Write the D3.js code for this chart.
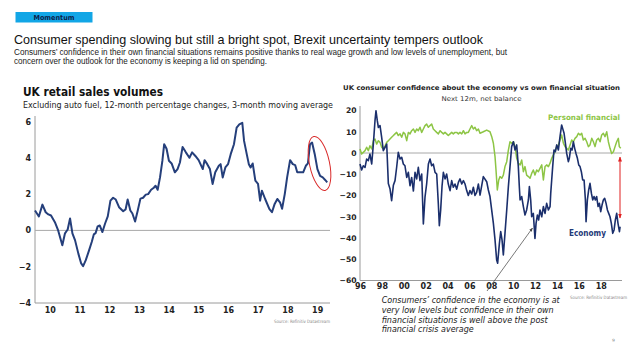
<!DOCTYPE html>
<html><head><meta charset="utf-8">
<script src="https://cdn.jsdelivr.net/npm/d3@7"></script>
<style>html,body{margin:0;padding:0;background:#fff;} svg{display:block;}</style>
</head><body>
<svg id="c" width="638" height="359"></svg>
<script>
// ---------- DATA ----------
const retailYears = [2010.00,2010.13,2010.25,2010.36,2010.45,2010.54,2010.67,2010.78,2010.92,2011.01,2011.10,2011.18,2011.26,2011.35,2011.46,2011.55,2011.62,2011.71,2011.82,2011.91,2011.98,2012.04,2012.11,2012.18,2012.27,2012.36,2012.45,2012.54,2012.63,2012.72,2012.83,2012.97,2013.05,2013.12,2013.21,2013.28,2013.37,2013.46,2013.55,2013.64,2013.73,2013.81,2013.91,2014.00,2014.06,2014.13,2014.21,2014.29,2014.35,2014.43,2014.51,2014.60,2014.71,2014.80,2014.88,2014.97,2015.08,2015.20,2015.29,2015.40,2015.51,2015.65,2015.71,2015.80,2015.89,2015.98,2016.07,2016.19,2016.25,2016.32,2016.41,2016.50,2016.59,2016.70,2016.79,2016.88,2016.98,2017.04,2017.13,2017.20,2017.26,2017.33,2017.42,2017.51,2017.58,2017.64,2017.75,2017.89,2017.98,2018.07,2018.16,2018.25,2018.32,2018.41,2018.49,2018.59,2018.68,2018.76,2018.83,2018.95,2019.03,2019.12,2019.19,2019.26,2019.33,2019.42,2019.51,2019.60,2019.69,2019.77,2019.84];
const retailValues = [1.1,0.77,1.42,1.0,0.88,0.82,0.45,0.0,-0.82,-0.16,0.05,0.66,-0.16,-0.55,-1.28,-1.8,-1.97,-1.64,-1.1,-0.64,-0.22,-0.15,0.22,0.27,-0.09,0.38,0.77,1.64,1.8,1.7,1.28,1.06,1.15,1.7,1.1,0.93,0.49,1.1,1.75,1.8,1.97,2.0,2.24,2.35,2.46,2.24,2.92,3.84,4.75,4.5,3.84,3.69,3.2,3.38,3.74,4.6,4.3,4.0,4.3,4.1,3.87,3.38,3.87,3.65,3.38,2.56,3.2,3.56,3.65,2.92,3.47,3.65,4.2,4.75,5.66,5.84,5.93,4.93,4.2,3.65,3.47,3.69,2.74,2.56,1.64,2.19,1.73,1.19,1.0,1.46,1.73,1.55,1.19,2.0,2.92,3.87,3.65,3.6,3.2,3.2,3.2,3.56,3.69,4.75,4.84,4.2,3.38,3.0,2.92,2.78,2.65];
const retailTicks = [-4,-2,0,2,4,6];
const retailYearTicks = [2010,2011,2012,2013,2014,2015,2016,2017,2018,2019];
const retailYearLabels = ["10","11","12","13","14","15","16","17","18","19"];

const econYears = [1996.00,1996.15,1996.30,1996.46,1996.61,1996.76,1996.91,1997.07,1997.22,1997.37,1997.46,1997.58,1997.68,1997.83,1997.98,1998.13,1998.29,1998.44,1998.59,1998.74,1998.89,1999.05,1999.20,1999.35,1999.50,1999.66,1999.81,1999.96,2000.11,2000.27,2000.42,2000.57,2000.72,2000.88,2001.03,2001.18,2001.33,2001.48,2001.64,2001.79,2001.94,2002.09,2002.25,2002.40,2002.55,2002.70,2002.86,2003.01,2003.16,2003.25,2003.37,2003.50,2003.62,2003.77,2003.92,2004.07,2004.23,2004.38,2004.53,2004.68,2004.84,2004.99,2005.14,2005.30,2005.45,2005.60,2005.75,2005.90,2006.05,2006.21,2006.36,2006.51,2006.66,2006.82,2006.97,2007.27,2007.58,2007.73,2007.88,2008.19,2008.34,2008.49,2008.58,2008.74,2008.86,2008.98,2009.10,2009.25,2009.41,2009.56,2009.71,2009.86,2010.02,2010.17,2010.32,2010.47,2010.56,2010.63,2010.78,2010.93,2011.08,2011.23,2011.39,2011.48,2011.60,2011.69,2011.84,2011.94,2011.99,2012.09,2012.21,2012.33,2012.45,2012.61,2012.76,2012.91,2013.06,2013.22,2013.37,2013.43,2013.52,2013.61,2013.73,2013.85,2013.98,2014.13,2014.28,2014.43,2014.52,2014.65,2014.77,2014.89,2015.04,2015.13,2015.26,2015.38,2015.50,2015.62,2015.74,2015.87,2015.99,2016.11,2016.23,2016.35,2016.48,2016.60,2016.66,2016.78,2016.90,2017.02,2017.15,2017.27,2017.39,2017.51,2017.63,2017.76,2017.88,2018.00,2018.12,2018.24,2018.36,2018.49,2018.61,2018.73,2018.85,2018.97,2019.10,2019.22,2019.34,2019.46,2019.58,2019.71,2019.77];
const econValues = [-5.2,-8,-6,-6.8,-2.8,-3.6,-0.5,-5.2,4.2,15.2,19.9,15.2,12,12.9,7.4,1.1,2.7,4.2,-14.4,-16.8,-22.4,-15.2,-13,-6.7,0.3,-2.8,-2,-5.2,-6,-11.5,-9.1,-15.4,-11.5,-17.9,-9.1,-12.2,-6.7,-13,-9.9,-33.4,-20.8,-14.6,-5.2,-2.8,-6,-5.2,-9.1,-9.9,-24,-34.2,-27,-15.4,-9.1,-12.2,-9.9,-14.6,-17.7,-13,-16.1,-14.6,-17,-13.8,-12.2,-14.6,-13,-14.6,-17.7,-20,-17.7,-19.3,-16.1,-20,-18.5,-14.6,-19.8,-11.1,-13.5,-17.4,-20.5,-33.1,-40.9,-50.4,-51.9,-42.5,-37,-40.9,-48,-37.8,-26.8,-15.8,-6.4,3,5.3,1.4,3.8,-6.4,-15.8,-22.1,-20.5,-25.2,-29.2,-26.8,-22.1,-15.8,-22.1,-30,-28.4,-36.2,-40.2,-33.1,-29.2,-31.5,-26.8,-30,-25.2,-28.4,-23.7,-26.8,-25.2,-19,-12.7,-6.4,1.4,0.6,3.8,1.4,7.7,13.2,11.6,9.3,4.6,-0.2,-4.1,-2.5,2.2,1.4,5.3,2.2,-0.2,-2.5,-5.6,-6.4,-8.8,-12.7,-12.7,-22.1,-32.3,-22.1,-17.4,-14.3,-19,-22.1,-20.5,-22.1,-20.5,-25.2,-23.7,-27.6,-24.5,-22.1,-21.3,-23.7,-26.8,-28.4,-30,-33.1,-37.8,-36.2,-31.5,-28.4,-33.1,-37,-34.7];

const persYears = [1996.00,1996.15,1996.30,1996.46,1996.61,1996.76,1996.91,1997.07,1997.22,1997.37,1997.52,1997.68,1997.83,1997.98,1998.13,1998.29,1998.44,1998.59,1998.74,1998.89,1999.05,1999.20,1999.35,1999.50,1999.66,1999.81,1999.96,2000.11,2000.27,2000.42,2000.57,2000.72,2000.88,2001.03,2001.18,2001.33,2001.48,2001.64,2001.79,2001.94,2002.09,2002.25,2002.40,2002.55,2002.70,2002.86,2003.01,2003.16,2003.32,2003.47,2003.62,2003.77,2003.92,2004.07,2004.23,2004.38,2004.53,2004.68,2004.84,2004.99,2005.14,2005.30,2005.45,2005.60,2005.75,2005.90,2006.05,2006.21,2006.36,2006.51,2006.66,2006.82,2006.97,2007.27,2007.58,2007.88,2008.04,2008.19,2008.34,2008.43,2008.55,2008.68,2008.80,2008.95,2009.10,2009.25,2009.41,2009.56,2009.71,2009.86,2010.02,2010.17,2010.32,2010.47,2010.63,2010.78,2010.93,2011.08,2011.23,2011.39,2011.54,2011.69,2011.84,2011.99,2012.15,2012.30,2012.45,2012.61,2012.76,2012.91,2013.06,2013.22,2013.37,2013.52,2013.67,2013.82,2013.98,2014.13,2014.28,2014.43,2014.59,2014.74,2014.89,2015.04,2015.20,2015.35,2015.50,2015.65,2015.81,2015.96,2016.11,2016.26,2016.41,2016.57,2016.72,2016.87,2017.02,2017.18,2017.33,2017.48,2017.63,2017.79,2017.94,2018.09,2018.24,2018.39,2018.55,2018.70,2018.85,2019.00,2019.16,2019.31,2019.46,2019.61,2019.70,2019.83];
const persValues = [1.9,-0.5,0.3,1.1,2.7,1.1,3.4,1.9,5.8,6.6,4.2,5.8,5,2.7,1.9,3.4,5,5.8,6.6,7.4,8.2,9,9.7,8.2,9,7.4,9.7,9,5.8,9.7,9,10.5,11.3,9.7,11.3,10.5,12.1,9.7,11.3,12.9,13.6,12.1,12.9,13.6,11.3,10.5,9.7,9,10.5,9.7,9,9.7,9,8.2,9,9.7,9,9.7,9.7,9,9.7,9,10.5,9,9.7,9.7,11.3,12.9,11.3,12.1,10.5,11.3,9.3,10,10.8,10,7.7,4.6,-1.7,-8,-17.4,-12.7,-11.1,-11.9,-10.4,-6.4,-4.1,1.4,5.3,4.6,5.3,3,-2.5,-4.8,-5.6,-3.3,-8.8,-6.4,-10.4,-11.1,-11.9,-9.6,-8,-10.4,-8,-8.8,-7.2,-5.6,-12.7,-6.4,-5.6,-6.4,-4.8,-2.5,-0.9,0.6,3,3.8,6.1,8.5,4.6,3,2.2,1.4,3.8,6.1,5.3,6.9,7.7,9.3,8.5,9.3,6.1,6.9,5.3,3,3.8,6.9,5.3,3,6.1,6.9,5.3,8.5,9.3,7.7,10,5.3,2.2,-0.2,0.6,3,5.3,6.9,3,2.2];
const confTicks = [20,10,0,-10,-20,-30,-40,-50,-60];
const confYearTicks = [1996,1998,2000,2002,2004,2006,2008,2010,2012,2014,2016,2018];
const confYearLabels = ["96","98","00","02","04","06","08","10","12","14","16","18"];

const annotationLines = ["Consumers\u2019 confidence in the economy is at","very low levels but confidence in their own","financial situations is well above the post","financial crisis average"];

// ---------- DRAW ----------
const svg = d3.select("#c");
svg.append("rect").attr("width",638).attr("height",359).attr("fill","#fff");
function txt(x,y,s,o={}) {
  const t = svg.append("text").attr("x",x).attr("y",y).text(s)
    .attr("font-family", o.family || "DejaVu Sans")
    .attr("font-size", o.size || 8)
    .attr("font-weight", o.weight || "normal")
    .attr("font-style", o.style || "normal")
    .attr("fill", o.fill || "#222")
    .attr("text-anchor", o.anchor || "start");
  if (o.len) t.attr("textLength", o.len).attr("lengthAdjust","spacingAndGlyphs");
  return t;
}
const pts = (xs, ys) => xs.slice(0, Math.min(xs.length, ys.length)).map((d,i)=>[d, ys[i]]);

// Header
svg.append("rect").attr("x",15.5).attr("y",12).attr("width",77).attr("height",10.5).attr("fill","#12a6e6");
txt(54,20.3,"Momentum",{size:7,weight:"bold",fill:"#0c1e4a",anchor:"middle",len:41});
txt(14,43.5,"Consumer spending slowing but still a bright spot, Brexit uncertainty tempers outlook",{family:"Liberation Sans",size:13,fill:"#111",len:469});
txt(14,54.5,"Consumers\u2019 confidence in their own financial situations remains positive thanks to real wage growth and low levels of unemployment, but",{family:"Liberation Sans",size:8.4,fill:"#222",len:493});
txt(14,64,"concern over the outlook for the economy is keeping a lid on spending.",{family:"Liberation Sans",size:8.4,fill:"#222",len:253});

// ----- Left chart -----
const xL = d3.scaleLinear().domain([2010, 2019.9]).range([35, 329]);
const yL = d3.scaleLinear().domain([-4, 6]).range([303, 121.5]);
txt(23,96,"UK retail sales volumes",{size:12,weight:"bold",fill:"#111",len:140});
txt(23,107.5,"Excluding auto fuel, 12-month percentage changes, 3-month moving average",{size:8.2,fill:"#222",len:310});

svg.append("line").attr("x1",35).attr("x2",35).attr("y1",116).attr("y2",303).attr("stroke","#9a9a9a").attr("stroke-width",1);
svg.append("line").attr("x1",35).attr("x2",330).attr("y1",yL(-4)).attr("y2",yL(-4)).attr("stroke","#9a9a9a").attr("stroke-width",1);
svg.append("line").attr("x1",35).attr("x2",330).attr("y1",yL(0)).attr("y2",yL(0)).attr("stroke","#a8a8a8").attr("stroke-width",1);

const axL = svg.append("g").attr("transform","translate(35,0)")
  .call(d3.axisLeft(yL).tickValues(retailTicks).tickSize(0).tickPadding(4).tickFormat(d3.format("d")));
axL.select(".domain").remove();
axL.selectAll("text").attr("font-family","DejaVu Sans").attr("font-weight","bold").attr("font-size",8).attr("fill","#222");

const axLx = svg.append("g").attr("transform","translate(0,303)")
  .call(d3.axisBottom(xL).tickValues(retailYearTicks.map(d=>d+0.5)).tickSize(0).tickFormat((d,i)=>retailYearLabels[i]));
axLx.select(".domain").remove();
axLx.selectAll("text").attr("y",9.5).attr("dy",0).attr("font-family","DejaVu Sans").attr("font-weight","bold").attr("font-size",8).attr("fill","#222");

svg.append("path").datum(pts(retailYears, retailValues))
  .attr("d", d3.line().x(d=>xL(d[0])).y(d=>yL(d[1])))
  .attr("fill","none").attr("stroke","#253f7b").attr("stroke-width",2).attr("stroke-linejoin","round");

svg.append("ellipse").attr("cx",319.5).attr("cy",163.5).attr("rx",10).attr("ry",27.5)
  .attr("transform","rotate(-12,319.5,163.5)").attr("fill","none").attr("stroke","#d92b2b").attr("stroke-width",1);
txt(274,323,"Source: Refinitiv Datastream",{size:4.5,fill:"#888",len:56});

// ----- Right chart -----
const xR = d3.scaleLinear().domain([1996, 2020]).range([360, 622.6]);
const yR = d3.scaleLinear().domain([-60, 20]).range([280.5, 110.5]);
txt(481.5,90,"UK consumer confidence about the economy vs own financial situation",{size:6.6,weight:"bold",fill:"#222",anchor:"middle",len:277});
txt(481.5,100.5,"Next 12m, net balance",{size:6.6,fill:"#333",anchor:"middle",len:80});

svg.append("line").attr("x1",360).attr("x2",360).attr("y1",106).attr("y2",yR(-60)).attr("stroke","#9a9a9a");
svg.append("line").attr("x1",360).attr("x2",622).attr("y1",yR(-60)).attr("y2",yR(-60)).attr("stroke","#9a9a9a");
svg.append("line").attr("x1",360).attr("x2",622).attr("y1",yR(0)).attr("y2",yR(0)).attr("stroke","#a8a8a8");

const axR = svg.append("g").attr("transform","translate(360,0)")
  .call(d3.axisLeft(yR).tickValues(confTicks).tickSize(0).tickPadding(3.5).tickFormat(d3.format("d")));
axR.select(".domain").remove();
axR.selectAll("text").attr("font-family","DejaVu Sans").attr("font-weight","bold").attr("font-size",7.6).attr("fill","#222");

const axRx = svg.append("g").attr("transform","translate(0,"+yR(-60)+")")
  .call(d3.axisBottom(xR).tickValues(confYearTicks).tickSize(0).tickFormat((d,i)=>confYearLabels[i]));
axRx.select(".domain").remove();
axRx.selectAll("text").attr("y",8).attr("dy",0).attr("font-family","DejaVu Sans").attr("font-weight","bold").attr("font-size",8).attr("fill","#222");

const lineR = d3.line().x(d=>xR(d[0])).y(d=>yR(d[1]));
svg.append("path").datum(pts(persYears, persValues)).attr("d", lineR)
  .attr("fill","none").attr("stroke","#8dc545").attr("stroke-width",1.5).attr("stroke-linejoin","round");
svg.append("path").datum(pts(econYears, econValues)).attr("d", lineR)
  .attr("fill","none").attr("stroke","#1b2f6c").attr("stroke-width",1.6).attr("stroke-linejoin","round");

txt(548,120,"Personal financial",{size:7.5,weight:"bold",fill:"#8dc545",len:72});
txt(569,235.5,"Economy",{size:8,weight:"bold",fill:"#1f3a78",len:37});
txt(570,299,"Source: Refinitiv Datastream",{size:4.5,fill:"#888",len:57});

// markers
const defs = svg.append("defs");
function marker(id, color, path){
  defs.append("marker").attr("id",id).attr("viewBox","0 0 10 10").attr("refX",9).attr("refY",5)
    .attr("markerWidth",5).attr("markerHeight",5).attr("orient","auto-start-reverse")
    .append("path").attr("d",path).attr("fill",color);
}
marker("ar","#e02020","M0,1 L10,5 L0,9 z");
marker("ag","#444","M0,1 L10,5 L0,9 z");

svg.append("line").attr("x1",620).attr("x2",620).attr("y1",157).attr("y2",218)
  .attr("stroke","#e02020").attr("stroke-width",1)
  .attr("marker-start","url(#ar)").attr("marker-end","url(#ar)");

svg.append("line").attr("x1",487).attr("y1",291).attr("x2",532.5).attr("y2",228)
  .attr("stroke","#555").attr("stroke-width",0.8).attr("marker-end","url(#ag)");

const annLens = [178,172,166,92];
annotationLines.forEach((s,i)=>{
  txt(381.7, 303.3 + i*9.6, s, {size:8.3, style:"italic", fill:"#222", len:annLens[i]});
});

txt(612,342,"9",{size:4.5,fill:"#888"});
</script>
</body></html>
